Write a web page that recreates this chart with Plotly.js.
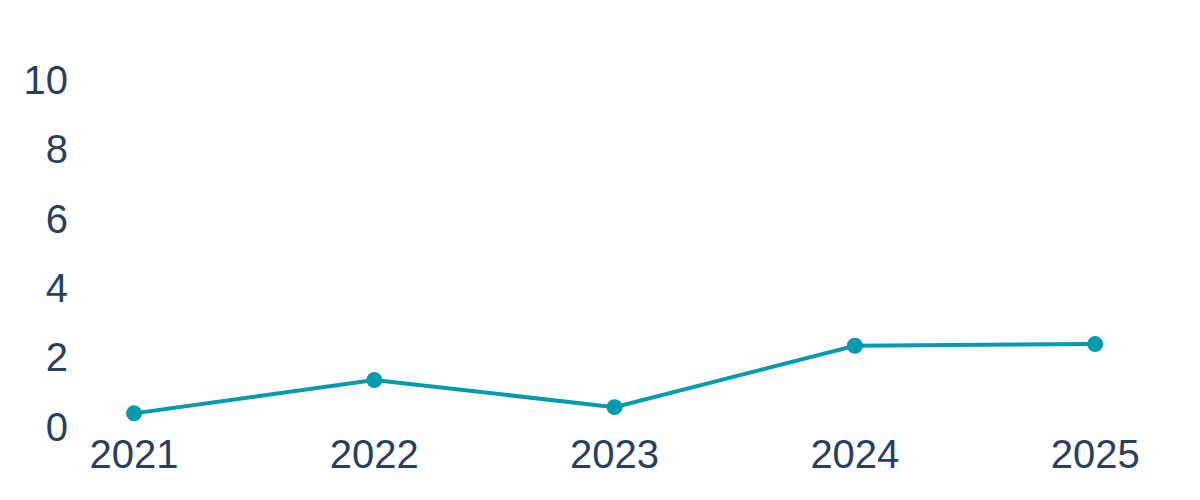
<!DOCTYPE html>
<html>
<head>
<meta charset="utf-8">
<script src="https://cdn.plot.ly/plotly-3.0.1.min.js"></script>
<style>html,body{margin:0;padding:0;background:#fff;}#chart{width:1200px;height:500px;}</style>
</head>
<body>
<div id="chart"></div>
<script>
const years = [2021, 2022, 2023, 2024, 2025];
const values = [0.38, 1.34, 0.56, 2.33, 2.38];
const yTicks = [0, 2, 4, 6, 8, 10];

const trace = {
  x: years,
  y: values,
  type: 'scatter',
  mode: 'lines+markers',
  line: {color: '#009bad', width: 4},
  marker: {color: '#009bad', size: 16},
  hoverinfo: 'x+y'
};

const layout = {
  width: 1200,
  height: 500,
  margin: {l: 80, r: 40, t: 20, b: 70},
  paper_bgcolor: '#ffffff',
  plot_bgcolor: '#ffffff',
  showlegend: false,
  font: {family: 'Liberation Sans, Arial, sans-serif', size: 40, color: '#2a3f5f'},
  xaxis: {
    range: [2020.775, 2025.27],
    tickvals: years,
    ticktext: years.map(String),
    showgrid: false,
    zeroline: false,
    showline: false,
    ticks: '',
    ticklabelstandoff: -3,
    tickfont: {size: 40, color: '#2a3f5f'}
  },
  yaxis: {
    range: [-0.1, 11.73],
    tickvals: yTicks,
    showgrid: false,
    zeroline: false,
    showline: false,
    ticks: '',
    ticklabelstandoff: 11,
    tickfont: {size: 40, color: '#2a3f5f'}
  }
};

Plotly.newPlot('chart', [trace], layout, {displayModeBar: false, staticPlot: true});
</script>
</body>
</html>
